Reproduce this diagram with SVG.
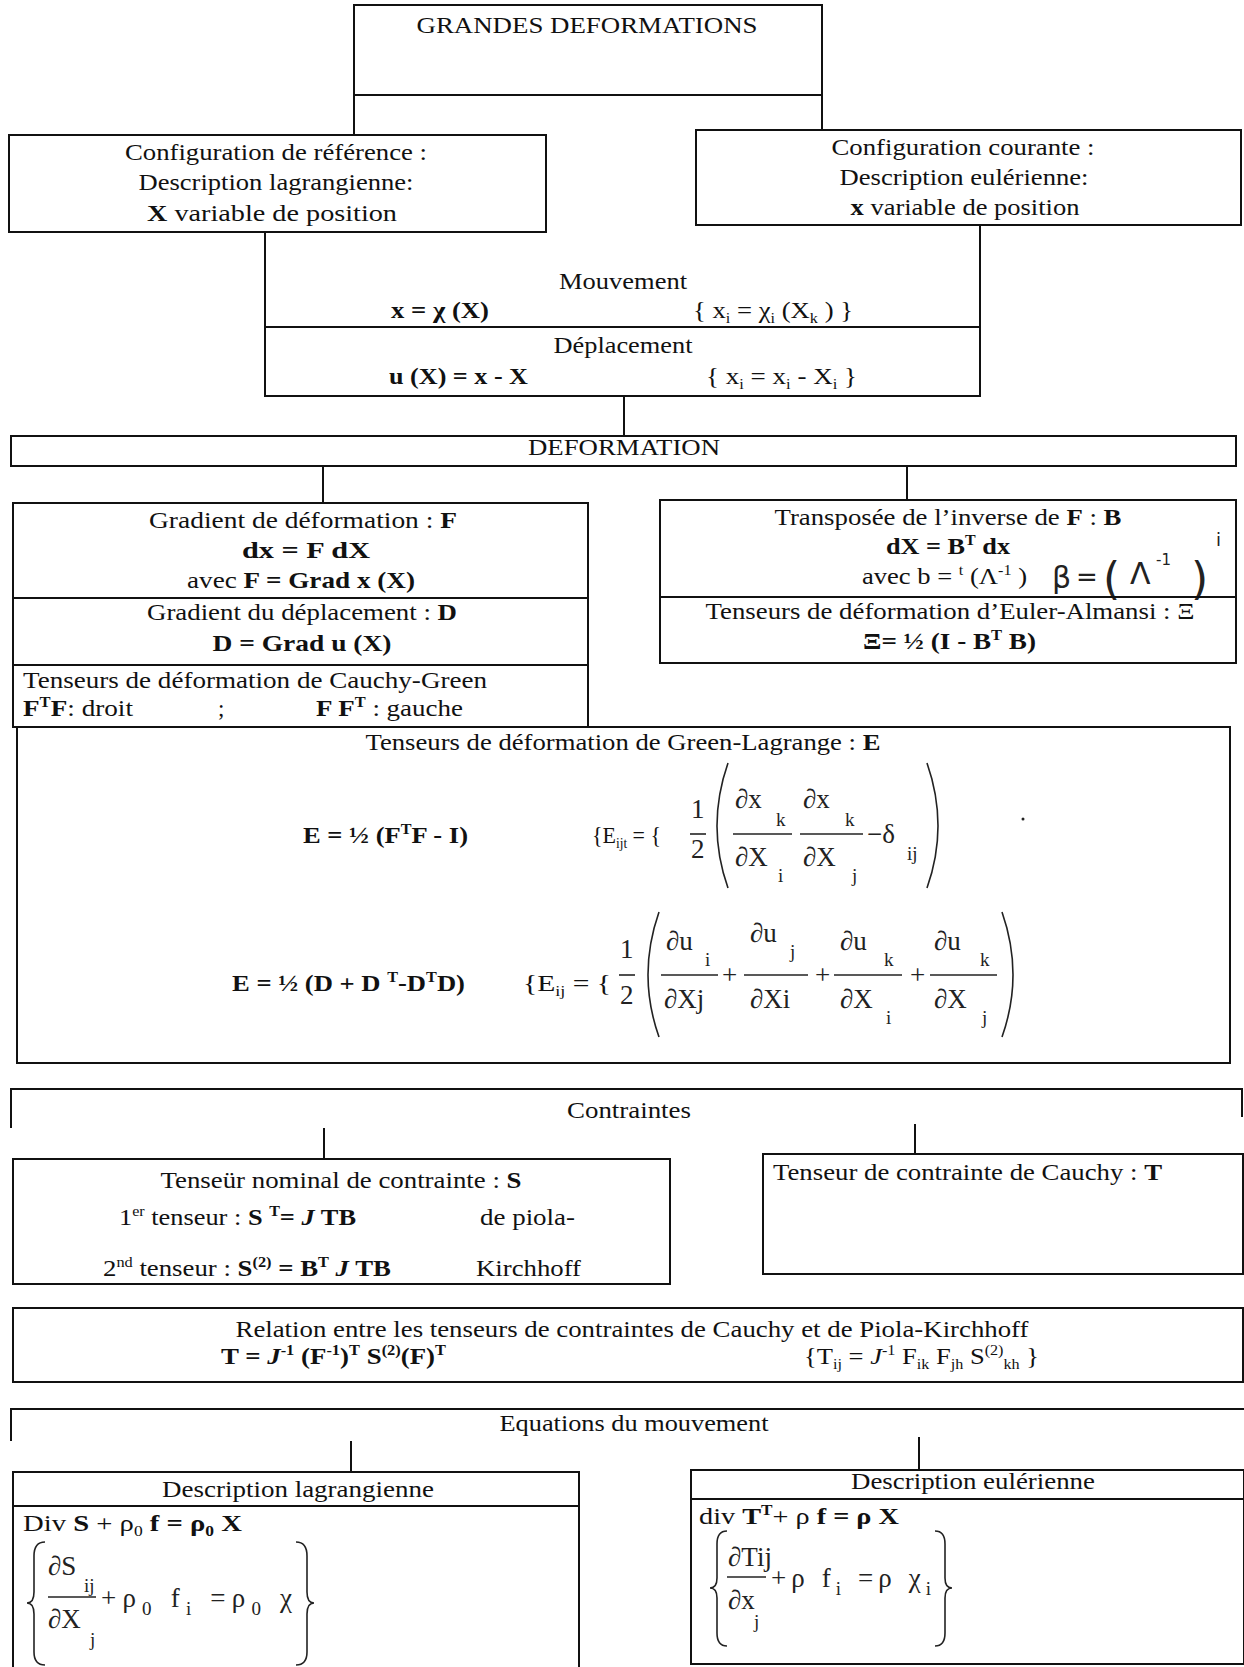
<svg xmlns="http://www.w3.org/2000/svg" width="1244" height="1667" viewBox="0 0 1244 1667">
<style>
.b{fill:none;stroke:#111;stroke-width:2}
.c{fill:none;stroke:#111;stroke-width:2}
.p{fill:none;stroke:#222;stroke-width:1.6}
.t{font-family:"Liberation Serif","Times New Roman",serif;font-size:23px;fill:#111}
.bd{font-weight:bold}
.m{font-family:"Liberation Serif","Times New Roman",serif;font-size:27px;fill:#222}
.s{font-size:14px}
.ms{font-size:19px}
.hw{font-family:"DejaVu Sans",sans-serif;font-size:30px;fill:#222}
</style>
<rect width="1244" height="1667" fill="#fff"/>

<g id="connectors">
  <line class="c" x1="354" y1="95" x2="354" y2="135"/>
  <line class="c" x1="822" y1="95" x2="822" y2="130"/>
  <line class="c" x1="265" y1="232" x2="265" y2="327"/>
  <line class="c" x1="980" y1="225" x2="980" y2="327"/>
  <line class="c" x1="624" y1="396" x2="624" y2="436"/>
  <line class="c" x1="323" y1="466" x2="323" y2="503"/>
  <line class="c" x1="907" y1="466" x2="907" y2="500"/>
  <line class="c" x1="324" y1="1128" x2="324" y2="1159"/>
  <line class="c" x1="915" y1="1124" x2="915" y2="1154"/>
  <line class="c" x1="351" y1="1441" x2="351" y2="1472"/>
  <line class="c" x1="919" y1="1437" x2="919" y2="1470"/>
</g>

<g id="n-grandes">
  <rect class="b" x="354" y="5" width="468" height="90"/>
  <text class="t" x="587" y="33" text-anchor="middle" style="font-size:24px" textLength="341" lengthAdjust="spacingAndGlyphs">GRANDES DEFORMATIONS</text>
</g>

<g id="n-config-ref">
  <rect class="b" x="9" y="135" width="537" height="97"/>
  <text class="t" x="276" y="160" text-anchor="middle" textLength="302" lengthAdjust="spacingAndGlyphs">Configuration de référence :</text>
  <text class="t" x="276" y="190" text-anchor="middle" textLength="275" lengthAdjust="spacingAndGlyphs">Description lagrangienne:</text>
  <text class="t" x="272" y="221" text-anchor="middle" textLength="250" lengthAdjust="spacingAndGlyphs"><tspan class="bd">X</tspan> variable de position</text>
</g>

<g id="n-config-cour">
  <rect class="b" x="696" y="130" width="545" height="95"/>
  <text class="t" x="963" y="155" text-anchor="middle" textLength="263" lengthAdjust="spacingAndGlyphs">Configuration courante :</text>
  <text class="t" x="964" y="185" text-anchor="middle" textLength="249" lengthAdjust="spacingAndGlyphs">Description eulérienne:</text>
  <text class="t" x="965" y="215" text-anchor="middle" textLength="229" lengthAdjust="spacingAndGlyphs"><tspan class="bd">x</tspan> variable de position</text>
</g>

<g id="n-mouvement">
  <line class="b" x1="265" y1="327" x2="980" y2="327"/>
  <text class="t" x="623" y="289" text-anchor="middle" textLength="128" lengthAdjust="spacingAndGlyphs">Mouvement</text>
  <text class="t bd" x="391" y="318" textLength="98" lengthAdjust="spacingAndGlyphs">x = χ (X)</text>
  <text class="t" x="693" y="318" textLength="160" lengthAdjust="spacingAndGlyphs">{ x<tspan class="s" dy="5">i</tspan><tspan dy="-5"> = χ</tspan><tspan class="s" dy="5">i</tspan><tspan dy="-5"> (X</tspan><tspan class="s" dy="5">k</tspan><tspan dy="-5"> ) }</tspan></text>
</g>

<g id="n-deplacement">
  <rect class="b" x="265" y="327" width="715" height="69"/>
  <text class="t" x="623" y="353" text-anchor="middle" textLength="139" lengthAdjust="spacingAndGlyphs">Déplacement</text>
  <text class="t bd" x="389" y="384" textLength="139" lengthAdjust="spacingAndGlyphs">u (X) = x - X</text>
  <text class="t" x="706" y="384" textLength="151" lengthAdjust="spacingAndGlyphs">{ x<tspan class="s" dy="5">i</tspan><tspan dy="-5"> = x</tspan><tspan class="s" dy="5">i</tspan><tspan dy="-5"> - X</tspan><tspan class="s" dy="5">i</tspan><tspan dy="-5">  }</tspan></text>
</g>

<g id="n-deformation">
  <rect class="b" x="11" y="436" width="1225" height="30"/>
  <text class="t" x="624" y="455" text-anchor="middle" textLength="192" lengthAdjust="spacingAndGlyphs">DEFORMATION</text>
</g>

<g id="n-gradient-F">
  <rect class="b" x="13" y="503" width="575" height="95"/>
  <text class="t" x="303" y="528" text-anchor="middle" textLength="308" lengthAdjust="spacingAndGlyphs">Gradient de déformation : <tspan class="bd">F</tspan></text>
  <text class="t bd" x="306" y="558" text-anchor="middle" textLength="128" lengthAdjust="spacingAndGlyphs">dx = F dX</text>
  <text class="t" x="301" y="588" text-anchor="middle" textLength="228" lengthAdjust="spacingAndGlyphs">avec <tspan class="bd">F = Grad x (X)</tspan></text>
</g>

<g id="n-gradient-D">
  <rect class="b" x="13" y="598" width="575" height="67"/>
  <text class="t" x="302" y="620" text-anchor="middle" textLength="310" lengthAdjust="spacingAndGlyphs">Gradient du déplacement : <tspan class="bd">D</tspan></text>
  <text class="t bd" x="302" y="651" text-anchor="middle" textLength="179" lengthAdjust="spacingAndGlyphs">D = Grad u (X)</text>
</g>

<g id="n-cauchy-green">
  <polyline class="b" points="13,665 13,727 588,727 588,665"/>
  <text class="t" x="23" y="688" textLength="464" lengthAdjust="spacingAndGlyphs">Tenseurs de déformation de Cauchy-Green</text>
  <text class="t" x="23" y="716" textLength="110" lengthAdjust="spacingAndGlyphs"><tspan class="bd">F</tspan><tspan class="s bd" dy="-9">T</tspan><tspan class="bd" dy="9">F</tspan>: droit</text>
  <text class="t" x="218" y="716">;</text>
  <text class="t" x="316" y="716" textLength="147" lengthAdjust="spacingAndGlyphs"><tspan class="bd">F F</tspan><tspan class="s bd" dy="-9">T</tspan><tspan dy="9"> : gauche</tspan></text>
</g>

<g id="n-transposee">
  <rect class="b" x="660" y="500" width="576" height="97"/>
  <text class="t" x="948" y="525" text-anchor="middle" textLength="347" lengthAdjust="spacingAndGlyphs">Transposée de l’inverse de <tspan class="bd">F</tspan> : <tspan class="bd">B</tspan></text>
  <text class="t bd" x="886" y="554" textLength="124" lengthAdjust="spacingAndGlyphs">dX = B<tspan class="s" dy="-9">T</tspan><tspan dy="9"> dx</tspan></text>
  <text class="t" x="862" y="584" textLength="165" lengthAdjust="spacingAndGlyphs">avec b = <tspan class="s" dy="-9">t</tspan><tspan dy="9"> (Λ</tspan><tspan class="s" dy="-9">-1</tspan><tspan dy="9"> )</tspan></text>
  <text class="hw" x="1052" y="588">β</text>
  <text class="hw" x="1076" y="586" style="font-size:26px">=</text>
  <text class="hw" x="1103" y="594" style="font-size:44px">(</text>
  <text class="hw" x="1130" y="584" style="font-size:30px">Λ</text>
  <text class="hw" x="1156" y="565" style="font-size:15px">-1</text>
  <text class="hw" x="1191" y="594" style="font-size:44px">)</text>
  <text class="hw" x="1216" y="546" style="font-size:18px">i</text>
</g>

<g id="n-euler-almansi">
  <rect class="b" x="660" y="597" width="576" height="66"/>
  <text class="t" x="950" y="619" text-anchor="middle" textLength="489" lengthAdjust="spacingAndGlyphs">Tenseurs de déformation d’Euler-Almansi : Ξ</text>
  <text class="t bd" x="863" y="649" textLength="173" lengthAdjust="spacingAndGlyphs">Ξ= ½ (I - B<tspan class="s" dy="-9">T</tspan><tspan dy="9"> B)</tspan></text>
</g>

<g id="n-green-lagrange">
  <rect class="b" x="17" y="727" width="1213" height="336"/>
  <text class="t" x="623" y="750" text-anchor="middle" textLength="515" lengthAdjust="spacingAndGlyphs">Tenseurs de déformation de Green-Lagrange : <tspan class="bd">E</tspan></text>
  <text class="t bd" x="303" y="843" textLength="165" lengthAdjust="spacingAndGlyphs">E = ½ (F<tspan class="s" dy="-9">T</tspan><tspan dy="9">F - I)</tspan></text>
  <text class="t" x="592" y="843" textLength="69" lengthAdjust="spacingAndGlyphs">{E<tspan class="s" dy="5">ijt</tspan><tspan dy="-5"> = {</tspan></text>
  <text class="m" x="691" y="818">1</text>
  <line class="p" x1="690" y1="834" x2="706" y2="834"/>
  <text class="m" x="691" y="858">2</text>
  <path class="p" d="M728,763 Q706,826 728,888"/>
  <text class="m" x="735" y="808">∂x</text><text class="m ms" x="776" y="826">k</text>
  <line class="p" x1="733" y1="834" x2="792" y2="834"/>
  <text class="m" x="735" y="866">∂X</text><text class="m ms" x="778" y="882">i</text>
  <text class="m" x="803" y="808">∂x</text><text class="m ms" x="845" y="826">k</text>
  <line class="p" x1="800" y1="834" x2="863" y2="834"/>
  <text class="m" x="803" y="866">∂X</text><text class="m ms" x="852" y="882">j</text>
  <text class="m" x="867" y="843">−δ</text><text class="m ms" x="907" y="860">ij</text>
  <path class="p" d="M927,763 Q949,826 927,888"/>
  <circle cx="1023" cy="819" r="1.5" fill="#222"/>
  <text class="t bd" x="232" y="991" textLength="233" lengthAdjust="spacingAndGlyphs">E = ½ (D + D <tspan class="s" dy="-9">T</tspan><tspan dy="9">-D</tspan><tspan class="s" dy="-9">T</tspan><tspan dy="9">D)</tspan></text>
  <text class="t" x="523" y="991" textLength="88" lengthAdjust="spacingAndGlyphs">{E<tspan class="s" dy="5">ij</tspan><tspan dy="-5"> = {</tspan></text>
  <text class="m" x="620" y="958">1</text>
  <line class="p" x1="619" y1="975" x2="635" y2="975"/>
  <text class="m" x="620" y="1004">2</text>
  <path class="p" d="M659,912 Q637,975 659,1037"/>
  <text class="m" x="666" y="950">∂u</text><text class="m ms" x="705" y="966">i</text>
  <line class="p" x1="661" y1="975" x2="718" y2="975"/>
  <text class="m" x="664" y="1008">∂Xj</text>
  <text class="m" x="722" y="984">+</text>
  <text class="m" x="750" y="942">∂u</text><text class="m ms" x="790" y="958">j</text>
  <line class="p" x1="744" y1="975" x2="808" y2="975"/>
  <text class="m" x="750" y="1008">∂Xi</text>
  <text class="m" x="815" y="984">+</text>
  <text class="m" x="840" y="950">∂u</text><text class="m ms" x="884" y="966">k</text>
  <line class="p" x1="834" y1="975" x2="902" y2="975"/>
  <text class="m" x="840" y="1008">∂X</text><text class="m ms" x="886" y="1024">i</text>
  <text class="m" x="910" y="984">+</text>
  <text class="m" x="934" y="950">∂u</text><text class="m ms" x="980" y="966">k</text>
  <line class="p" x1="930" y1="975" x2="997" y2="975"/>
  <text class="m" x="934" y="1008">∂X</text><text class="m ms" x="982" y="1024">j</text>
  <path class="p" d="M1002,912 Q1024,975 1002,1037"/>
</g>

<g id="n-contraintes">
  <polyline class="b" points="11,1128 11,1089 1242,1089 1242,1117"/>
  <text class="t" x="629" y="1118" text-anchor="middle" textLength="124" lengthAdjust="spacingAndGlyphs">Contraintes</text>
</g>

<g id="n-nominal">
  <rect class="b" x="13" y="1159" width="657" height="125"/>
  <text class="t" x="341" y="1188" text-anchor="middle" textLength="361" lengthAdjust="spacingAndGlyphs">Tenseür nominal de contrainte : <tspan class="bd">S</tspan></text>
  <text class="t" x="119" y="1225" textLength="237" lengthAdjust="spacingAndGlyphs">1<tspan class="s" dy="-9">er</tspan><tspan dy="9"> tenseur : </tspan><tspan class="bd">S </tspan><tspan class="s bd" dy="-9">T</tspan><tspan class="bd" dy="9">= <tspan font-style="italic">J</tspan> TB</tspan></text>
  <text class="t" x="480" y="1225" textLength="95" lengthAdjust="spacingAndGlyphs">de piola-</text>
  <text class="t" x="103" y="1276" textLength="288" lengthAdjust="spacingAndGlyphs">2<tspan class="s" dy="-9">nd</tspan><tspan dy="9"> tenseur : </tspan><tspan class="bd">S</tspan><tspan class="s bd" dy="-9">(2)</tspan><tspan class="bd" dy="9"> = B</tspan><tspan class="s bd" dy="-9">T</tspan><tspan class="bd" dy="9"> <tspan font-style="italic">J</tspan> TB</tspan></text>
  <text class="t" x="476" y="1276" textLength="105" lengthAdjust="spacingAndGlyphs">Kirchhoff</text>
</g>

<g id="n-cauchy">
  <rect class="b" x="763" y="1154" width="480" height="120"/>
  <text class="t" x="773" y="1180" textLength="389" lengthAdjust="spacingAndGlyphs">Tenseur de contrainte de Cauchy : <tspan class="bd">T</tspan></text>
</g>

<g id="n-relation">
  <rect class="b" x="13" y="1308" width="1230" height="74"/>
  <text class="t" x="632" y="1337" text-anchor="middle" textLength="793" lengthAdjust="spacingAndGlyphs">Relation entre les tenseurs de contraintes de Cauchy et de Piola-Kirchhoff</text>
  <text class="t bd" x="221" y="1364" textLength="225" lengthAdjust="spacingAndGlyphs">T = <tspan font-style="italic">J</tspan><tspan class="s" dy="-9">-1</tspan><tspan dy="9"> (F</tspan><tspan class="s" dy="-9">-1</tspan><tspan dy="9">)</tspan><tspan class="s" dy="-9">T</tspan><tspan dy="9"> S</tspan><tspan class="s" dy="-9">(2)</tspan><tspan dy="9">(F)</tspan><tspan class="s" dy="-9">T</tspan></text>
  <text class="t" x="804" y="1364" textLength="235" lengthAdjust="spacingAndGlyphs">{T<tspan class="s" dy="5">ij</tspan><tspan dy="-5"> = </tspan><tspan font-style="italic">J</tspan><tspan class="s" dy="-9">-1</tspan><tspan dy="9"> F</tspan><tspan class="s" dy="5">ik</tspan><tspan dy="-5"> F</tspan><tspan class="s" dy="5">jh</tspan><tspan dy="-5"> S</tspan><tspan class="s" dy="-9">(2)</tspan><tspan class="s" dy="14">kh</tspan><tspan dy="-5"> }</tspan></text>
</g>

<g id="n-equations">
  <polyline class="b" points="11,1441 11,1409 1244,1409"/>
  <text class="t" x="634" y="1431" text-anchor="middle" textLength="269" lengthAdjust="spacingAndGlyphs">Equations du mouvement</text>
</g>

<g id="n-lagrangienne">
  <polyline class="b" points="13,1667 13,1472 579,1472 579,1667"/>
  <line class="b" x1="13" y1="1506" x2="579" y2="1506"/>
  <text class="t" x="298" y="1497" text-anchor="middle" textLength="272" lengthAdjust="spacingAndGlyphs">Description lagrangienne</text>
  <text class="t" x="23" y="1531" textLength="219" lengthAdjust="spacingAndGlyphs">Div <tspan class="bd">S</tspan> + ρ<tspan class="s" dy="5">0</tspan><tspan dy="-5"> </tspan><tspan class="bd">f = ρ</tspan><tspan class="s bd" dy="5">0</tspan><tspan class="bd" dy="-5"> X</tspan></text>
  <path class="p" d="M45,1542 Q34,1542 34,1556 L34,1592 Q34,1603 27,1603 Q34,1603 34,1614 L34,1652 Q34,1665 45,1665"/>
  <text class="m" x="48" y="1575">∂S</text><text class="m ms" x="84" y="1592">ij</text>
  <line class="p" x1="48" y1="1597" x2="96" y2="1597"/>
  <text class="m" x="48" y="1628">∂X</text><text class="m ms" x="90" y="1646">j</text>
  <text class="m" x="101" y="1607" textLength="191" lengthAdjust="spacing">+ρ<tspan class="ms" dy="8">0</tspan><tspan dy="-8"> f</tspan><tspan class="ms" dy="8">i</tspan><tspan dy="-8"> =ρ</tspan><tspan class="ms" dy="8">0</tspan><tspan dy="-8"> χ</tspan></text>
  <path class="p" d="M296,1542 Q307,1542 307,1556 L307,1592 Q307,1603 314,1603 Q307,1603 307,1614 L307,1652 Q307,1665 296,1665"/>
</g>

<g id="n-eulerienne">
  <rect class="b" x="691" y="1470" width="553" height="194"/>
  <line class="b" x1="691" y1="1499" x2="1244" y2="1499"/>
  <text class="t" x="973" y="1489" text-anchor="middle" textLength="244" lengthAdjust="spacingAndGlyphs">Description eulérienne</text>
  <text class="t" x="699" y="1524" textLength="200" lengthAdjust="spacingAndGlyphs">div <tspan class="bd">T</tspan><tspan class="s bd" dy="-9">T</tspan><tspan dy="9">+ ρ </tspan><tspan class="bd">f = ρ X</tspan></text>
  <path class="p" d="M727,1531 Q717,1531 717,1544 L717,1578 Q717,1588 710,1588 Q717,1588 717,1598 L717,1633 Q717,1646 727,1646"/>
  <text class="m" x="728" y="1566">∂Tij</text>
  <line class="p" x1="727" y1="1577" x2="766" y2="1577"/>
  <text class="m" x="728" y="1609">∂x</text><text class="m ms" x="754" y="1628">j</text>
  <text class="m" x="771" y="1587" textLength="160" lengthAdjust="spacing">+ρ f<tspan class="ms" dy="8">i</tspan><tspan dy="-8"> =ρ χ</tspan><tspan class="ms" dy="8">i</tspan></text>
  <path class="p" d="M935,1531 Q945,1531 945,1544 L945,1578 Q945,1588 952,1588 Q945,1588 945,1598 L945,1633 Q945,1646 935,1646"/>
</g>
</svg>
